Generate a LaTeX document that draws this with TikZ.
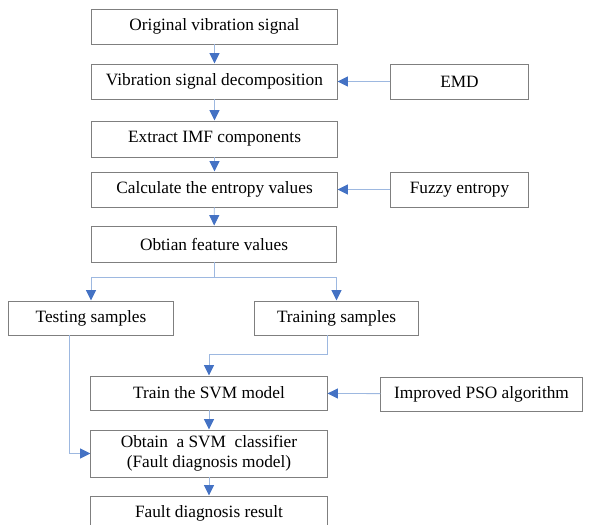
\documentclass[tikz,border=0pt]{standalone}
\usepackage{fontspec}
\setmainfont{Liberation Serif}
\usetikzlibrary{arrows.meta,calc}
\definecolor{boxgray}{HTML}{7F7F7F}
\definecolor{linkblue}{HTML}{9DB8E0}
\definecolor{tipblue}{HTML}{4472C4}

\begin{document}
\begin{tikzpicture}[x=0.025cm,y=-0.025cm]
\tikzstyle{box}=[draw=boxgray,line width=0.7pt,inner sep=0pt,align=center,font=\fontsize{12.3}{14.2}\selectfont]
\tikzstyle{link}=[draw=linkblue,line width=0.6pt,-{Triangle[color=tipblue,length=0.26cm,width=0.25cm]}]
\useasboundingbox (0,0) rectangle (600,525);
% main column
\node [box,minimum width=6.125cm,minimum height=0.875cm] (orig) at (214.5,26.5) {Original vibration signal};
\node [box,minimum width=6.125cm,minimum height=0.875cm] (decomp) at (214.5,81.5) {Vibration signal decomposition};
\node [box,minimum width=6.125cm,minimum height=0.9cm] (imf) at (214.5,139) {Extract IMF components};
\node [box,minimum width=6.125cm,minimum height=0.875cm] (entropy) at (214.5,189.5) {Calculate the entropy values};
\node [box,minimum width=6.1cm,minimum height=0.9cm] (feature) at (214,244) {Obtian feature values};
% side inputs
\node [box,minimum width=3.425cm,minimum height=0.875cm] (emd) at (459.5,81.5) {EMD};
\node [box,minimum width=3.425cm,minimum height=0.875cm] (fuzzy) at (459.5,189.5) {Fuzzy entropy};
% samples
\node [box,minimum width=4.1cm,minimum height=0.85cm] (test) at (91,318) {Testing samples};
\node [box,minimum width=4.075cm,minimum height=0.85cm] (train) at (336.5,318) {Training samples};
% SVM part
\node [box,minimum width=5.9cm,minimum height=0.85cm] (svm) at (209,393) {Train the SVM model};
\node [box,minimum width=5.025cm,minimum height=0.85cm] (pso) at (481.5,394) {Improved PSO algorithm};
\node [box,minimum width=5.9cm,minimum height=1.175cm] (clf) at (209,453.5) {Obtain~ a SVM~ classifier\\(Fault diagnosis model)};
\node [box,minimum width=5.9cm,minimum height=1.25cm] (result) at (209,521) {};
\node [font=\fontsize{12.3}{14.2}\selectfont,inner sep=0pt] (resulttext) at (209,513) {Fault diagnosis result};
% connectors
\draw [link] (orig) -- (decomp);
\draw [link] (decomp) -- (imf);
\draw [link] (imf) -- (entropy);
\draw [link] (entropy) -- (feature);
\draw [link] (emd) -- (decomp);
\draw [link] (fuzzy) -- (entropy);
\draw [link] (feature.south) -- ++(0,15) -| (test.north);
\draw [link] (feature.south) -- ++(0,15) -| (train.north);
\draw [link] ($(train.south)+(-9.5,0)$) -- ++(0,19) -| (svm.north);
\draw [link] ($(test.south)+(-22,0)$) |- (clf.west);
\draw [link] (pso) -- (svm);
\draw [link] (svm) -- (clf);
\draw [link] (clf) -- (result);
\end{tikzpicture}
\end{document}
